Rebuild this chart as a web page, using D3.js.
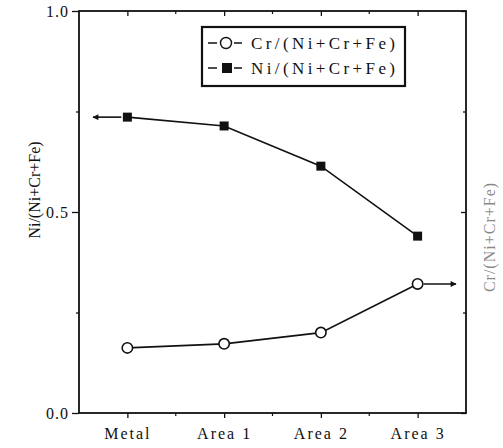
<!DOCTYPE html>
<html>
<head>
<meta charset="utf-8">
<script src="https://cdn.jsdelivr.net/npm/d3@7"></script>
<style>
  html, body { margin: 0; padding: 0; background: #fff; }
  svg text { font-family: "Liberation Serif", "DejaVu Serif", serif; fill: #111; }
</style>
</head>
<body>
<svg id="svg" width="503" height="448"></svg>
<script>
// --- Data ---
const categories = ['Metal', 'Area 1', 'Area 2', 'Area 3'];
const crValues   = [0.162, 0.172, 0.200, 0.321];
const niValues   = [0.736, 0.714, 0.614, 0.440];
const yMajor     = [0, 0.5, 1.0];
const yMinor     = [0.25, 0.75];
const seriesNames = ['Cr/(Ni+Cr+Fe)', 'Ni/(Ni+Cr+Fe)'];

const svg = d3.select('#svg');

const L = 79, R = 466, T = 11, B = 413;

const x = d3.scalePoint().domain(categories).range([L, R]).padding(0.5);
const y = d3.scaleLinear().domain([0, 1]).range([B, T]);

const xMinor = categories.slice(1).map(c => x(c) - x.step() / 2);

// --- Axes ---
const fmt = d3.format('.1f');

// left: major outward with labels, minor short outward
svg.append('g')
    .attr('transform', `translate(${L},0)`)
    .call(d3.axisLeft(y).tickValues(yMajor).tickFormat(fmt).tickSize(7).tickPadding(3))
    .call(g => g.select('.domain').remove())
    .call(g => g.selectAll('text')
        .attr('font-size', '16px')
        .attr('letter-spacing', '1px'));
svg.append('g')
    .attr('transform', `translate(${L},0)`)
    .call(d3.axisLeft(y).tickValues(yMinor).tickFormat('').tickSize(3))
    .call(g => g.select('.domain').remove());

// right: inward ticks, no labels
svg.append('g')
    .attr('transform', `translate(${R},0)`)
    .call(d3.axisLeft(y).tickValues(yMajor).tickFormat('').tickSize(5))
    .call(g => g.select('.domain').remove());
svg.append('g')
    .attr('transform', `translate(${R},0)`)
    .call(d3.axisLeft(y).tickValues(yMinor).tickFormat('').tickSize(3))
    .call(g => g.select('.domain').remove());

// bottom: major outward with labels
svg.append('g')
    .attr('transform', `translate(0,${B})`)
    .call(d3.axisBottom(x).tickSize(5).tickPadding(10))
    .call(g => g.select('.domain').remove())
    .call(g => g.selectAll('text')
        .attr('font-size', '16px')
        .attr('letter-spacing', '2px'));
svg.append('g')
    .selectAll('line.xminor')
    .data(xMinor).join('line')
    .attr('x1', d => d).attr('x2', d => d)
    .attr('y1', B).attr('y2', B + 3)
    .attr('stroke', '#111').attr('stroke-width', 1.2);

// top: inward ticks
svg.append('g')
    .attr('transform', `translate(0,${T})`)
    .call(d3.axisBottom(x).tickSize(5).tickFormat(''))
    .call(g => g.select('.domain').remove());
svg.append('g')
    .selectAll('line.xminor')
    .data(xMinor).join('line')
    .attr('x1', d => d).attr('x2', d => d)
    .attr('y1', T).attr('y2', T + 3)
    .attr('stroke', '#111').attr('stroke-width', 1.2);

svg.selectAll('.tick line').attr('stroke', '#111').attr('stroke-width', 1.3);

// frame
svg.append('rect')
    .attr('x', L).attr('y', T)
    .attr('width', R - L).attr('height', B - T)
    .attr('fill', 'none').attr('stroke', '#111').attr('stroke-width', 1.8);

// --- Axis titles ---
svg.append('text')
    .attr('transform', 'translate(40,190) rotate(-90)')
    .attr('text-anchor', 'middle')
    .attr('font-size', '16px')
    .text('Ni/(Ni+Cr+Fe)');

svg.append('text')
    .attr('transform', 'translate(495,237) rotate(-90)')
    .attr('text-anchor', 'middle')
    .attr('font-size', '16px')
    .attr('letter-spacing', '1px')
    .attr('opacity', 0.5)
    .text('Cr/(Ni+Cr+Fe)');

// --- Arrow marker ---
svg.append('defs').append('marker')
    .attr('id', 'arrow')
    .attr('viewBox', '0 0 10 10')
    .attr('refX', 9).attr('refY', 5)
    .attr('markerWidth', 7).attr('markerHeight', 6)
    .attr('markerUnits', 'userSpaceOnUse')
    .attr('orient', 'auto')
    .append('path')
    .attr('d', 'M0,0 L10,5 L0,10 Z')
    .attr('fill', '#111');

// --- Lines ---
const line = d3.line()
    .x((d, i) => x(categories[i]))
    .y(d => y(d));

svg.append('path')
    .datum(niValues)
    .attr('d', line)
    .attr('fill', 'none')
    .attr('stroke', '#111')
    .attr('stroke-width', 1.6);

svg.append('path')
    .datum(crValues)
    .attr('d', line)
    .attr('fill', 'none')
    .attr('stroke', '#111')
    .attr('stroke-width', 1.6);

// arrows pointing to the axis each series belongs to
svg.append('line')
    .attr('x1', x(categories[0]) - 6).attr('x2', L + 14)
    .attr('y1', y(niValues[0])).attr('y2', y(niValues[0]))
    .attr('stroke', '#111').attr('stroke-width', 1.6)
    .attr('marker-end', 'url(#arrow)');

svg.append('line')
    .attr('x1', x(categories[3]) + 6).attr('x2', R - 10)
    .attr('y1', y(crValues[3])).attr('y2', y(crValues[3]))
    .attr('stroke', '#111').attr('stroke-width', 1.6)
    .attr('marker-end', 'url(#arrow)');

// --- Markers ---
const sq = 9;
svg.append('g')
    .selectAll('rect')
    .data(niValues).join('rect')
    .attr('x', (d, i) => x(categories[i]) - sq / 2)
    .attr('y', d => y(d) - sq / 2)
    .attr('width', sq).attr('height', sq)
    .attr('fill', '#111');

svg.append('g')
    .selectAll('circle')
    .data(crValues).join('circle')
    .attr('cx', (d, i) => x(categories[i]))
    .attr('cy', d => y(d))
    .attr('r', 5.2)
    .attr('fill', '#fff')
    .attr('stroke', '#111')
    .attr('stroke-width', 1.6);

// --- Legend ---
const lg = svg.append('g').attr('transform', 'translate(202,27)');
lg.append('rect')
    .attr('width', 203).attr('height', 59)
    .attr('fill', '#fff')
    .attr('stroke', '#111').attr('stroke-width', 2.2);

seriesNames.forEach((name, i) => {
    const row = lg.append('g').attr('transform', `translate(0,${16 + i * 25})`);
    row.append('line').attr('x1', 6).attr('x2', 15).attr('stroke', '#111').attr('stroke-width', 1.5);
    row.append('line').attr('x1', 32).attr('x2', 40).attr('stroke', '#111').attr('stroke-width', 1.5);
    if (i === 0) {
        row.append('circle').attr('cx', 24).attr('r', 5.5)
            .attr('fill', '#fff').attr('stroke', '#111').attr('stroke-width', 1.4);
    } else {
        row.append('rect').attr('x', 20).attr('y', -5).attr('width', 10).attr('height', 10)
            .attr('fill', '#111');
    }
    row.append('text')
        .attr('x', 49).attr('dy', '0.35em')
        .attr('font-size', '17px')
        .attr('letter-spacing', '3.4px')
        .text(name);
});
</script>
</body>
</html>
